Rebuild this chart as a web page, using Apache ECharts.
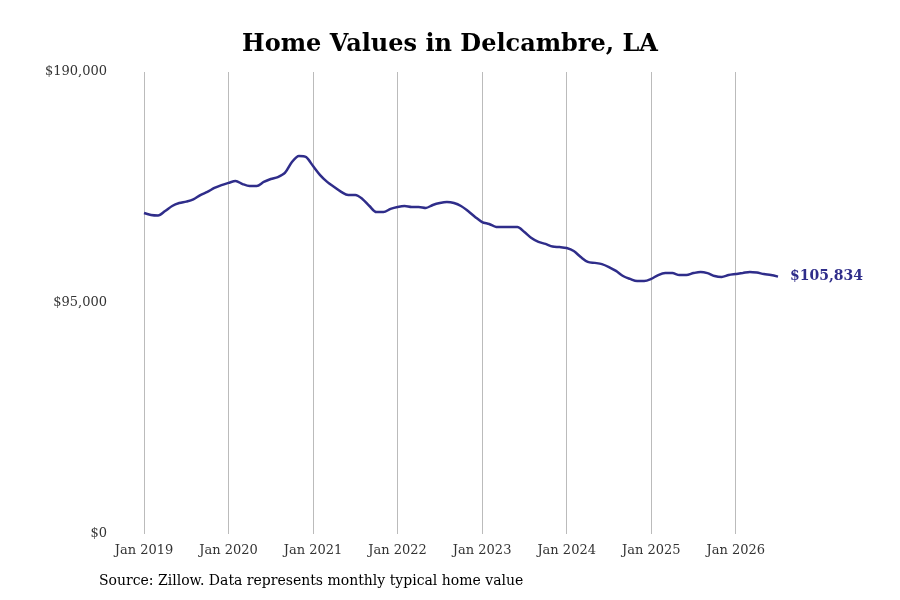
<!DOCTYPE html>
<html>
<head>
<meta charset="utf-8">
<script src="https://cdn.jsdelivr.net/npm/echarts@6/dist/echarts.min.js"></script>
<style>html,body{margin:0;padding:0;background:#fff}#chart{width:900px;height:600px}</style>
</head>
<body>
<div id="chart"></div>
<script>
var monthNames = ['Jan', 'Feb', 'Mar', 'Apr', 'May', 'Jun', 'Jul', 'Aug', 'Sep', 'Oct', 'Nov', 'Dec'];
var years = [2019, 2020, 2021, 2022, 2023, 2024, 2025, 2026];
var yTicks = [0, 95000, 190000];

// monthly typical home value, Jan 2019 .. Jul 2026
var homeValues = [
    132000, 131200, 131000, 132800, 134900, 136100, 136700, 137600, 139400, 140700, 142300, 143500,
    144400, 145200, 143900, 143100, 143100, 144800, 146000, 146800, 148500, 153000, 155500, 155000,
    151300, 147600, 144800, 142700, 140700, 139400, 139400, 137800, 134900, 132400, 132400, 133700,
    134500, 134900, 134500, 134500, 134100, 135300, 136100, 136500, 136100, 134900, 132800, 130400,
    128300, 127500, 126300, 126300, 126300, 126300, 124200, 121700, 120100, 119300, 118200, 118000,
    117600, 116400, 113900, 111900, 111500, 111000, 109800, 108200, 106100, 104900, 104000, 104000,
    104900, 106500, 107300, 107300, 106500, 106500, 107300, 107800, 107300, 106100, 105700, 106500,
    106900, 107300, 107800, 107500, 106900, 106500, 105834
];

var months = [];
years.forEach(function (y) {
    monthNames.forEach(function (m) { months.push(m + ' ' + y); });
});
months = months.slice(0, homeValues.length);

var chart = echarts.init(document.getElementById('chart'));
var serif = 'DejaVu Serif';
var isJan = function (i) { return i % 12 === 0; };

chart.setOption({
    animation: false,
    textStyle: { fontFamily: serif },
    title: {
        text: 'Home Values in Delcambre, LA',
        left: 'center', top: 28,
        textStyle: { fontFamily: serif, fontSize: 24, fontWeight: 'bold', color: '#000' }
    },
    graphic: [{
        type: 'text', left: 99, top: 574,
        style: { text: 'Source: Zillow. Data represents monthly typical home value', font: '14px "DejaVu Serif"', fill: '#000' }
    }],
    grid: { left: 144, right: 122, top: 72, bottom: 66 },
    xAxis: {
        type: 'category',
        data: months,
        boundaryGap: false,
        axisLine: { show: false },
        axisTick: { show: false },
        axisLabel: { interval: isJan, color: '#333', fontSize: 13, margin: 10, fontFamily: serif },
        splitLine: { show: true, interval: isJan, lineStyle: { color: '#bbb', width: 1 } }
    },
    yAxis: {
        type: 'value',
        min: yTicks[0], max: yTicks[2], interval: yTicks[1],
        axisLine: { show: false },
        axisTick: { show: false },
        splitLine: { show: false },
        axisLabel: {
            color: '#333', fontSize: 13, margin: 37, fontFamily: serif,
            formatter: function (v) { return '$' + v.toLocaleString('en-US'); }
        }
    },
    series: [{
        type: 'line',
        data: homeValues,
        smooth: 0.3,
        symbol: 'none',
        lineStyle: { color: '#2f2d8a', width: 2.5 },
        endLabel: {
            show: true, distance: 12,
            color: '#2f2d8a', fontWeight: 'bold', fontSize: 14, fontFamily: serif,
            formatter: function (p) { return '$' + p.value.toLocaleString('en-US'); }
        }
    }]
});
</script>
</body>
</html>
